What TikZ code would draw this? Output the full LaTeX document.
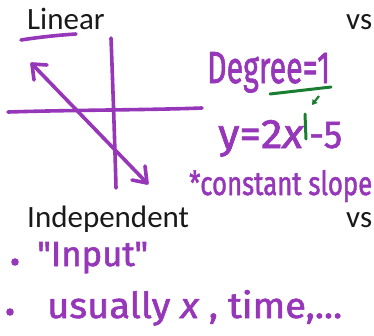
\documentclass[tikz,border=0pt]{standalone}
\usepackage{fontspec}
\setmainfont{Carlito}
\newfontfamily\hand[FakeBold=1.6]{Fira Sans}
\usetikzlibrary{arrows.meta}
\definecolor{pen}{RGB}{150,55,185}
\definecolor{gpen}{RGB}{25,125,50}
\tikzset{
  printed/.style={anchor=base west, inner sep=0pt, text=black!90, font=\fontsize{31}{34}\selectfont},
  ink/.style={draw=pen, line width=3.6pt, line cap=round, line join=round},
  ginks/.style={draw=gpen, line width=3pt, line cap=round, line join=round},
  hw/.style={anchor=base west, inner sep=0pt, text=pen, font=\hand\fontsize{30}{32}\selectfont},
}
\begin{document}
\begin{tikzpicture}[x=1pt,y=-1pt]
\useasboundingbox[fill=white] (0,0) rectangle (374,335);
% printed headings
\node[printed] (lin) at (27,29) {Linear};
\node[printed] (vs1) at (346,29) {vs};
\node[printed] (ind) at (27,227) {Independent};
\node[printed] (vs2) at (346,227) {vs};
% underline under Linear
\draw[ink] (21,40) .. controls (40,37) and (60,35) .. (76,34);
% axes
\draw[ink] (8,112) .. controls (70,110) and (150,110) .. (202,108);
\draw[ink] (111,38) .. controls (113,90) and (115,150) .. (116,188);
% diagonal with arrowheads
\coordinate (a1) at (32,64);
\coordinate (a2) at (147,183);
\draw[ink] (a1) -- (a2);
\draw[ink] (34,80) -- (a1) -- (47,65);
\draw[ink] (132,180) -- (a2) -- (145,166);
% handwritten: Degree = 1
\node[hw] (deg) at (207,83) {\resizebox{123pt}{31pt}{Degree=1}};
\draw[ginks] (270,94) -- (331,87);
\draw[gpen, line width=2.2pt, -{Triangle[length=5pt,width=6pt]}] (319,96) -- (312,105);
% y = 2x^1 - 5
\node[hw] (eq1) at (218,148) {\resizebox{85pt}{28pt}{y=2\itshape x}};
\draw[ginks] (305,114) -- (306,139);
\node[hw] (eq2) at (309,148) {\resizebox{33pt}{26pt}{-5}};
% constant slope
\node[hw] (cs) at (189,195) {\resizebox{183pt}{25pt}{*constant slope}};
% bullets
\fill[pen] (15,262) circle (3.8);
\node[hw] (inp) at (37,266) {\resizebox{111pt}{24pt}{"Input"}};
\fill[pen] (10,312) circle (3.8);
\node[hw] (us) at (47,318) {\resizebox{295pt}{28pt}{usually {\itshape x} , time,...}};
\end{tikzpicture}
\end{document}
